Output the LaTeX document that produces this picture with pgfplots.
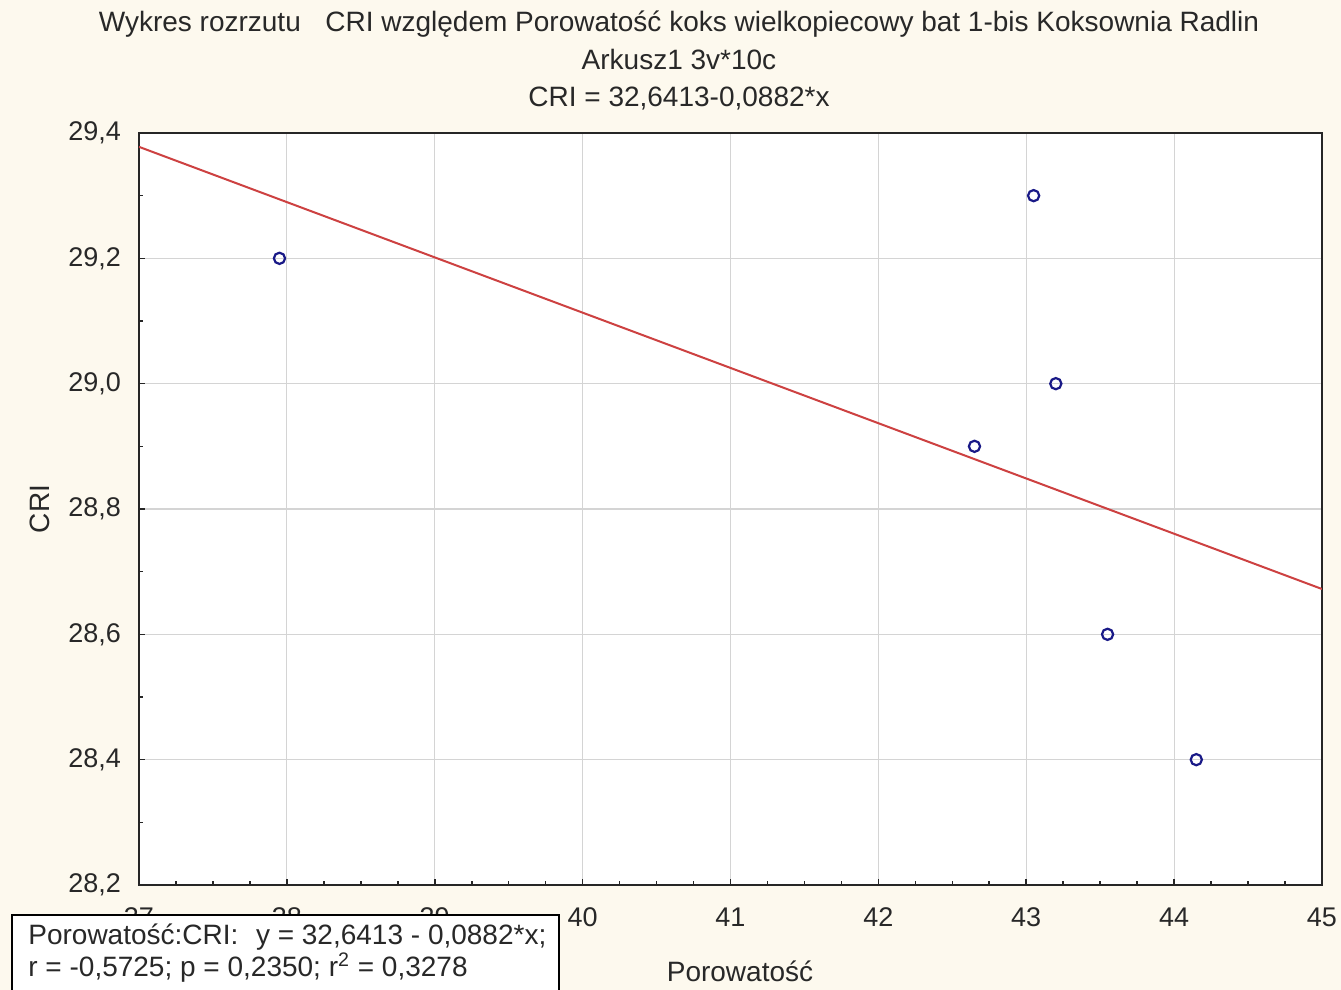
\documentclass[border=0pt]{standalone}
\usepackage{fontspec}
\setmainfont{Liberation Sans}
\usepackage{pgfplots}
\pgfplotsset{compat=1.18}
\definecolor{bg}{RGB}{253,249,238}
\definecolor{gridc}{RGB}{212,212,212}
\definecolor{ptc}{RGB}{25,25,135}
\definecolor{linec}{RGB}{205,65,65}
\definecolor{txt}{RGB}{40,40,40}
\begin{document}
\begin{tikzpicture}
\fill[bg] (-69.5pt,-52.5pt) rectangle (601pt,442.5pt);
\begin{axis}[
 at={(0,0)}, anchor=south west,
 width=591.5pt, height=376pt, scale only axis,
 xmin=37, xmax=45, ymin=28.2, ymax=29.4,
 xtick={37,38,39,40,41,42,43,44,45},
 ytick={28.2,28.4,28.6,28.8,29.0,29.2,29.4},
 minor x tick num=3, minor y tick num=1,
 grid=major, major grid style={gridc, line width=0.6pt},
 axis line style={line width=1pt, black!85},
 tick style={black!85, line width=0.8pt},
 major tick length=3pt, minor tick length=2pt,
 tick align=inside,
 xtick pos=bottom, ytick pos=left,
 axis background/.style={fill=white},
 tick label style={font=\fontsize{13.5}{16}\selectfont, text=txt},
 /pgf/number format/assume math mode=true,
 yticklabel style={/pgf/number format/fixed, /pgf/number format/fixed zerofill, /pgf/number format/precision=1, /pgf/number format/use comma, xshift=-5.5pt},
 xticklabel style={yshift=-8pt},
]
\addplot[linec, line width=1pt] coordinates {(37,29.3779) (45,28.6723)};
\addplot[only marks, mark=o, mark size=2.8pt, ptc, line width=1.1pt] coordinates {
(37.95,29.2) (42.65,28.9) (43.05,29.3) (43.2,29.0) (43.55,28.6) (44.15,28.4)};
\end{axis}
\node[font=\fontsize{14}{16}\selectfont, text=txt, anchor=base] at (270pt,426.5pt) {Wykres rozrzutu\hspace{0.6em} CRI względem Porowatość koks wielkopiecowy bat 1-bis Koksownia Radlin};
\node[font=\fontsize{14}{16}\selectfont, text=txt, anchor=base] at (270pt,407.5pt) {Arkusz1 3v*10c};
\node[font=\fontsize{14}{16}\selectfont, text=txt, anchor=base] at (270pt,389pt) {CRI = 32,6413-0,0882*x};
\node[font=\fontsize{14}{16}\selectfont, text=txt] at (300.5pt,-43pt) {Porowatość};
\node[font=\fontsize{14}{16}\selectfont, text=txt, rotate=90] at (-49.5pt,188pt) {CRI};
\draw[fill=white, line width=0.8pt, draw=black] (-63.5pt,-15pt) rectangle (210pt,-80pt);
\node[font=\fontsize{14}{16}\selectfont, text=txt, anchor=base west, inner sep=0pt] at (-55.5pt,-30pt) {Porowatość:CRI:\hspace{0.35em} y = 32,6413 - 0,0882*x;};
\node[font=\fontsize{14}{16}\selectfont, text=txt, anchor=base west, inner sep=0pt] at (-55.5pt,-46pt) {r = -0,5725; p = 0,2350; r\textsuperscript{2} = 0,3278};
\pgfresetboundingbox
\path (-69.5pt,-52.5pt) rectangle (601pt,442.5pt);
\end{tikzpicture}
\end{document}
